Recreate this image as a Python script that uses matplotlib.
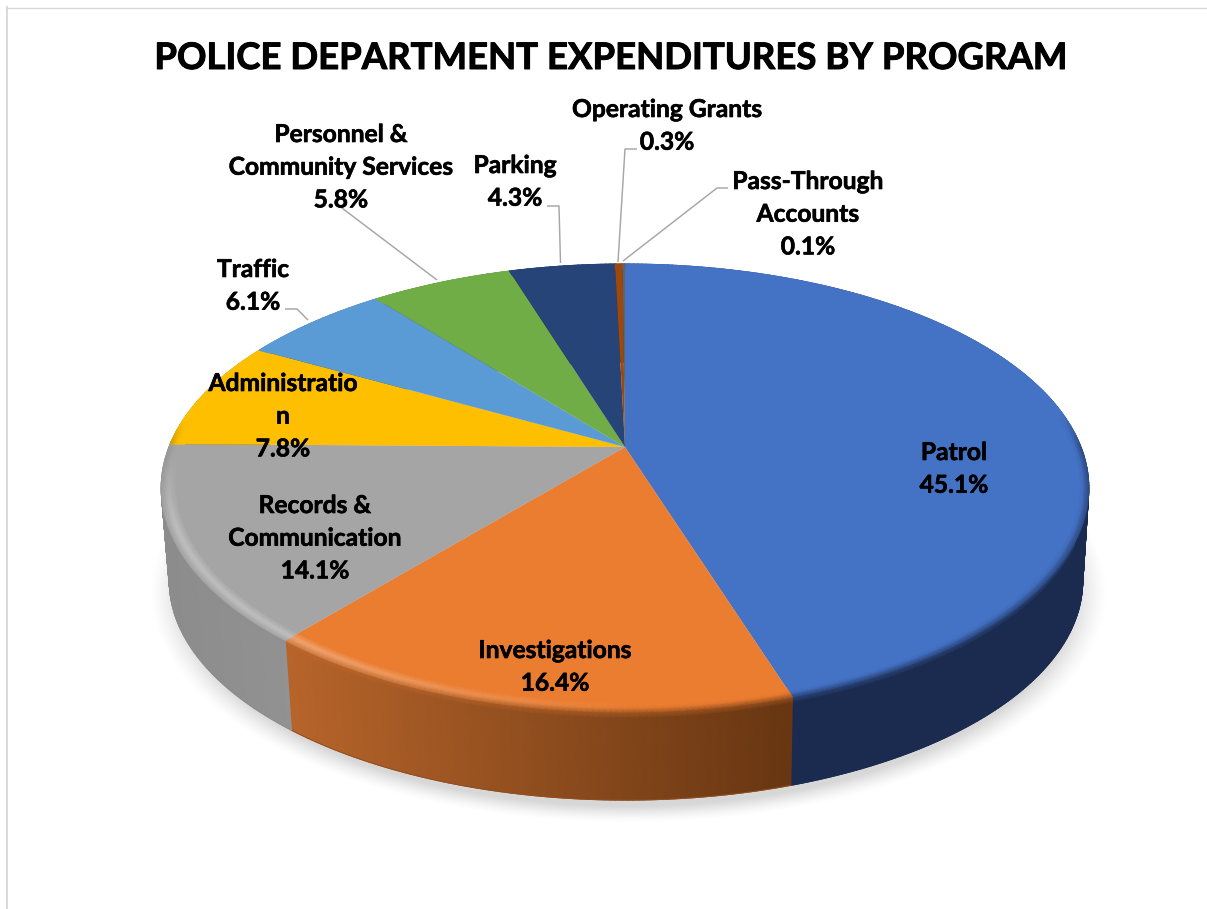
import numpy as np
import matplotlib
matplotlib.use("Agg")
import matplotlib.pyplot as plt
import matplotlib.patheffects as pe
from matplotlib.patches import Polygon

# Budget shares by program, clockwise from twelve o'clock
programs = ["Patrol", "Investigations", "Records & Communication", "Administration",
            "Traffic", "Personnel & Community Services", "Parking",
            "Operating Grants", "Pass-Through Accounts"]
shares = [45.1, 16.4, 14.1, 7.8, 6.1, 5.8, 4.3, 0.3, 0.1]
label_lines = [["Patrol"], ["Investigations"], ["Records &", "Communication"],
               ["Administratio", "n"], ["Traffic"], ["Personnel &", "Community Services"],
               ["Parking"], ["Operating Grants"], ["Pass-Through", "Accounts"]]
title = "POLICE DEPARTMENT EXPENDITURES BY PROGRAM"

top_colors = ["#4472C4", "#EB7D31", "#A5A5A5", "#FDBF00", "#5B9BD5",
              "#70AD47", "#264478", "#9E480E", "#636363"]

# Label placement: centre x and baseline of the first line, in pixels
label_anchor = [(954, 460), (555, 658), (315, 513), (283, 391), (253, 277),
                (341, 142), (515, 173), (667, 117), (808, 189)]
LINE_PITCH = 32.7

# Leader lines, in pixels
leaders = {4: [(285, 309), (297, 309), (308, 320)],
           5: [(338, 205), (437, 280)],
           6: [(547, 206), (559, 206), (560.5, 263)],
           7: [(637, 149), (625, 149), (618, 262)],
           8: [(728, 188), (717, 188), (623, 261)]}

W, H = 1207, 909
fig = plt.figure(figsize=(W / 100, H / 100), dpi=100, facecolor="white")
ax = fig.add_axes([0, 0, 1, 1])
ax.set_xlim(0, W)
ax.set_ylim(H, 0)
ax.axis("off")

# Perspective view of a tilted disc
K = 0.183


def project(theta, r=1.0, level=0.0):
    """Clockwise angle from the top of the disc -> pixel position."""
    # Slight lens skew of the camera, only on the left half of the disc
    onset = np.clip((theta - np.radians(165)) / np.radians(35), 0, 1)
    onset = onset * onset * (3 - 2 * onset)
    phi = theta - np.radians(1.6) * onset * (1 - np.abs((theta - np.pi) / np.pi) ** 3)
    X = r * np.sin(phi)
    Y = r * np.cos(phi)
    w = 1 + K * Y
    if level == 0.0:
        return 625 + 456 * X / w, 447 - 216.5 * Y / w
    return 626 + 449 * X / w, 541 - 211.7 * Y / w


def rgb(c):
    return np.array(matplotlib.colors.to_rgb(c))


def wall_color(i, x):
    """Side-wall colour for slice i at pixel column x."""
    u = np.clip((x - 290) / 500, 0, 1)[..., None]
    if i == 1:
        return (1 - u) * np.array([182, 100, 42]) / 255 + u * np.array([104, 54, 18]) / 255
    if i == 2:
        v = np.clip((x - 165) / 125, 0, 1)[..., None]
        return (1 - v) * np.array([140, 140, 140]) / 255 + v * np.array([146, 146, 146]) / 255
    if i == 0:
        return np.ones_like(u) * np.array([27, 43, 79]) / 255
    return rgb(top_colors[i]) * 0.55 * np.ones_like(u)


# Soft ground shadow below the disc
gx, gy = np.meshgrid(np.arange(0, W, 2.0), np.arange(300, H, 2.0))
q = np.sqrt(((gx - 628) / 445) ** 2 + ((gy - 592) / 214) ** 2)
falloff = np.clip(1 - (q - 1) / 0.08, 0, 1)
shadow = np.zeros(gx.shape + (4,))
shadow[..., 3] = 0.16 * falloff ** 1.4
ax.imshow(shadow, extent=(0, W, H, 300), aspect="auto", zorder=1, interpolation="bilinear")
ax.set_xlim(0, W)
ax.set_ylim(H, 0)

fractions = np.cumsum([0] + shares) / sum(shares)
angles = 2 * np.pi * fractions

# Side walls
for i, c in enumerate(top_colors):
    n = max(int((angles[i + 1] - angles[i]) * 90), 2)
    t = np.linspace(angles[i], angles[i + 1], n)
    x0, y0 = project(t)
    x1, y1 = project(t, level=1.0)
    rows = np.array([0.0, 0.07, 0.5, 1.0])
    X = np.array([x0 + s * (x1 - x0) for s in rows])
    Y = np.array([y0 + s * (y1 - y0) for s in rows])
    wc = wall_color(i, x0)
    col = np.stack([0.5 * wc + 0.5 * rgb(c) * 0.85, wc, wc, wc])
    ax.pcolormesh(X, Y, col, shading="gouraud", zorder=2)
    ax.plot(x1, y1, color=tuple(wc[len(wc) // 2]), lw=0.7, zorder=2)

# Top faces
for i, c in enumerate(top_colors):
    n = max(int((angles[i + 1] - angles[i]) * 90), 2)
    t = np.linspace(angles[i], angles[i + 1], n)
    x, y = project(t)
    pts = np.column_stack([np.r_[625, x], np.r_[447, y]])
    ax.add_patch(Polygon(pts, closed=True, facecolor=c, edgecolor="none", zorder=3))

# Rounded rim: light on the left and front, dark on the right
for i, c in enumerate(top_colors):
    n = max(int((angles[i + 1] - angles[i]) * 90), 2)
    t = np.linspace(angles[i], angles[i + 1], n)
    radii = np.array([0.968, 0.982, 0.990, 1.0])
    X, Y = [], []
    for r in radii:
        xr, yr = project(t, r)
        X.append(xr)
        Y.append(yr)
    X, Y = np.array(X), np.array(Y)
    base = rgb(c)
    fade = np.clip((-0.02 - np.cos(t)) / 0.3, 0, 1)[..., None]
    side_fade = np.clip((0.15 - np.cos(t)) / 0.15, 0, 1)[..., None]
    glow = np.clip((640 - X[-1]) / 340, 0, 1)[..., None] * fade
    wc = wall_color(i, X[-1])
    light = base + (1 - base) * 0.28 * glow
    edge = (1 - 0.6 * side_fade) * light + 0.6 * side_fade * wc
    mid = 0.8 * light + 0.2 * edge
    base_row = base * np.ones_like(light)
    col = np.stack([base_row, light, mid, edge])
    ax.pcolormesh(X, Y, col, shading="gouraud", zorder=4)

# Leader lines
for path in leaders.values():
    ax.plot(*zip(*path), color="#A6A6A6", lw=1.05, zorder=5, solid_capstyle="butt")

# Data labels
FONT = "Lato"
thicken = [pe.withStroke(linewidth=0.45, foreground="black")]
for lines, share, (cx, by) in zip(label_lines, shares, label_anchor):
    for j, line in enumerate(lines + [f"{share:.1f}%"]):
        ax.text(cx, by + j * LINE_PITCH, line, ha="center", va="baseline",
                fontsize=17.7, fontweight="bold", family=FONT, color="black", zorder=6,
                path_effects=thicken)

ax.text(610, 69, title, ha="center", va="baseline", fontsize=26.3,
        fontweight="bold", family=FONT, color="black", zorder=6,
        path_effects=[pe.withStroke(linewidth=0.7, foreground="black")])

# Thin chart border along the top and left
ax.plot([6, W], [7.5, 7.5], color="#D9D9D9", lw=1.0, zorder=0)
ax.plot([7, 7], [7, H], color="#D9D9D9", lw=1.4, zorder=0)

fig.savefig("out.png", dpi=100, facecolor="white")
